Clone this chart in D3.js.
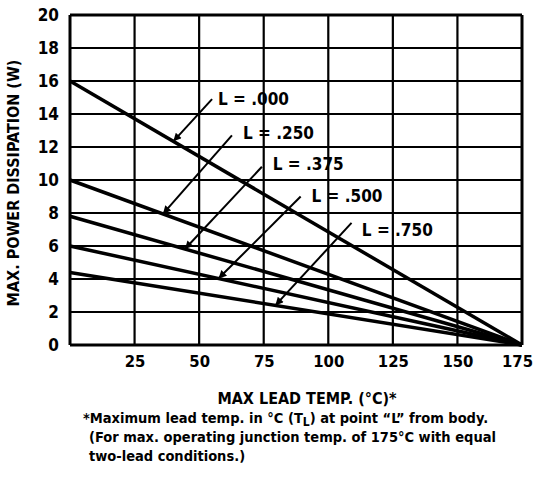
<!DOCTYPE html>
<html>
<head>
<meta charset="utf-8">
<script src="https://cdn.jsdelivr.net/npm/d3@7/dist/d3.min.js"></script>
<style>
html,body{margin:0;padding:0;background:#fff;}
text{font-family:"Liberation Sans Narrow","Arial Narrow","DejaVu Sans Condensed",sans-serif;font-weight:bold;fill:#000;}
</style>
</head>
<body>
<svg id="chart" width="535" height="479"></svg>
<script>
// ---- data ----
const leadTemps = [0, 175];                 // x endpoints (°C)
const seriesNames = ["L = .000", "L = .250", "L = .375", "L = .500", "L = .750"];
const powerL000 = [16, 0];
const powerL250 = [10, 0];
const powerL375 = [7.8, 0];
const powerL500 = [6, 0];
const powerL750 = [4.4, 0];
const seriesValues = [powerL000, powerL250, powerL375, powerL500, powerL750];
const xTicks = [25, 50, 75, 100, 125, 150, 175];
const xGrid = [0, 25, 50, 75, 100, 125, 150, 175];
const yTicks = [0, 2, 4, 6, 8, 10, 12, 14, 16, 18, 20];
// annotation: arrow tip lies on the series at this temp; leader start & label in data units
const arrowTipTemp = [40, 36, 44.5, 57.5, 79.5];
const leaderStart = [[55, 14.9], [62.7, 12.7], [74.3, 10.8], [89.3, 9.0], [109, 7.4]];
const labelPos = [[57.3, 14.9], [67, 12.85], [78.5, 10.95], [93.5, 9.05], [113, 7.0]];

const svg = d3.select("#chart");
const x = d3.scaleLinear().domain([0, 175]).range([70, 522]);
const y = d3.scaleLinear().domain([0, 20]).range([345, 15]);

// grid
const g = svg.append("g");
g.selectAll("line.v").data(xGrid).enter().append("line")
  .attr("x1", d => x(d)).attr("x2", d => x(d)).attr("y1", y(0)).attr("y2", y(20))
  .attr("stroke", "#000").attr("stroke-width", d => (d === 0 || d === 175) ? 3 : 2.2);
g.selectAll("line.h").data(yTicks).enter().append("line")
  .attr("x1", x(0)).attr("x2", x(175)).attr("y1", d => y(d)).attr("y2", d => y(d))
  .attr("stroke", "#000").attr("stroke-width", d => (d === 0 || d === 20) ? 3 : 2.2);

// axes labels (tick text only)
const yAxis = d3.axisLeft(y).tickValues(yTicks).tickSize(0).tickPadding(11);
const ya = svg.append("g").attr("transform", `translate(${x(0)},0)`).call(yAxis);
ya.select(".domain").remove();
ya.attr("font-family", null).attr("font-size", null);
ya.selectAll("text").attr("font-size", 17);

const xAxis = d3.axisBottom(x).tickValues(xTicks).tickSize(0).tickPadding(10);
const xa = svg.append("g").attr("transform", `translate(0,${y(0)})`).call(xAxis);
xa.select(".domain").remove();
xa.attr("font-family", null).attr("font-size", null);
xa.selectAll("text").attr("font-size", 16.5).attr("dx", d => d === 175 ? -5 : 0);

// series lines
const line = d3.line().x((d, i) => x(leadTemps[i])).y(d => y(d));
svg.selectAll("path.series").data(seriesValues).enter().append("path")
  .attr("d", d => line(d)).attr("fill", "none").attr("stroke", "#000").attr("stroke-width", 3.5);

// arrow marker
svg.append("defs").append("marker").attr("id", "arr")
  .attr("viewBox", "0 0 10 10").attr("refX", 10).attr("refY", 5)
  .attr("markerWidth", 6).attr("markerHeight", 4).attr("markerUnits", "strokeWidth")
  .attr("orient", "auto")
  .append("path").attr("d", "M0,0L10,5L0,10z").attr("fill", "#000");

function valAt(vals, t) { return vals[0] + (vals[1] - vals[0]) * (t - leadTemps[0]) / (leadTemps[1] - leadTemps[0]); }

seriesNames.forEach((name, i) => {
  const tx = x(arrowTipTemp[i]), ty = y(valAt(seriesValues[i], arrowTipTemp[i]));
  svg.append("line")
    .attr("x1", x(leaderStart[i][0])).attr("y1", y(leaderStart[i][1]))
    .attr("x2", tx).attr("y2", ty)
    .attr("stroke", "#000").attr("stroke-width", 2).attr("marker-end", "url(#arr)");
  svg.append("text").attr("x", x(labelPos[i][0])).attr("y", y(labelPos[i][1]))
    .attr("dy", "0.36em").attr("font-size", 17).text(name);
});

// axis titles
svg.append("text").attr("x", 307).attr("y", 398).attr("dy", "0.36em")
  .attr("text-anchor", "middle").attr("font-size", 16).text("MAX LEAD TEMP. (°C)*");
svg.append("text").attr("transform", "translate(13,183) rotate(-90)").attr("dy", "0.36em")
  .attr("text-anchor", "middle").attr("font-size", 16).text("MAX. POWER DISSIPATION (W)");

// footnote
const fn = svg.append("g").attr("font-size", 14.5);
const l1 = fn.append("text").attr("x", 83).attr("y", 418).attr("dy", "0.36em");
l1.append("tspan").text("*Maximum lead temp. in °C (T");
l1.append("tspan").attr("dy", "0.25em").attr("font-size", 12).text("L");
l1.append("tspan").attr("dy", "-0.25em").text(") at point “L” from body.");
fn.append("text").attr("x", 89).attr("y", 437).attr("dy", "0.36em")
  .text("(For max. operating junction temp. of 175°C with equal");
fn.append("text").attr("x", 89).attr("y", 456).attr("dy", "0.36em")
  .text("two-lead conditions.)");
</script>
</body>
</html>
